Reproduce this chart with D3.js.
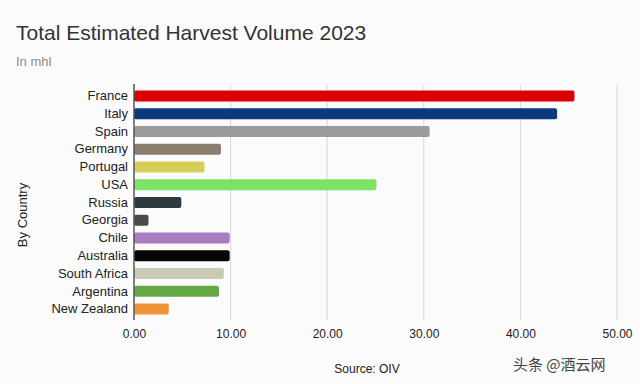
<!DOCTYPE html>
<html><head><meta charset="utf-8">
<script src="https://cdn.jsdelivr.net/npm/d3@7"></script>
<style>html,body{margin:0;padding:0;background:#fbfbfc;}svg{display:block;}</style>
</head><body>
<script>
const countries = ["France","Italy","Spain","Germany","Portugal","USA","Russia","Georgia","Chile","Australia","South Africa","Argentina","New Zealand"];
const volumes = [45.6,43.8,30.6,9.0,7.3,25.1,4.9,1.5,9.9,9.9,9.3,8.8,3.6];
const barColors = ["#dd0000","#0b3a7e","#9a9a9f","#8c7e6e","#d6cd58","#7ee264","#2e3a40","#4a4a4f","#a97cc0","#050505","#c9c9b5","#65a945","#f0943a"];
const xTicks = [0,10,20,30,40,50];
const titleText = "Total Estimated Harvest Volume 2023";
const subtitleText = "In mhl";
const yAxisTitle = "By Country";
const sourceText = "Source: OIV";
const watermark = "头条 @酒云网";

const W = 640, H = 384;
const svg = d3.select("body").append("svg").attr("width", W).attr("height", H);
svg.append("rect").attr("width", W).attr("height", H).attr("fill", "#fbfbfc");

const font = "'Liberation Sans', Arial, sans-serif";
const x = d3.scaleLinear().domain([0, 50]).range([134, 617]);
const y = d3.scaleBand().domain(countries).range([87, 318]).paddingInner(0.38).paddingOuter(0.19);

// gridlines
svg.append("g").selectAll("line").data(xTicks.slice(1)).join("line")
  .attr("x1", d => x(d)).attr("x2", d => x(d)).attr("y1", 85).attr("y2", 320)
  .attr("stroke", "#d6d6da").attr("stroke-width", 1);

// bars
svg.append("g").selectAll("rect").data(countries).join("rect")
  .attr("x", x(0)).attr("y", d => y(d))
  .attr("width", (d, i) => x(volumes[i]) - x(0))
  .attr("height", y.bandwidth())
  .attr("rx", 2).attr("fill", (d, i) => barColors[i]);

// axis line
svg.append("line").attr("x1", x(0)).attr("x2", x(0)).attr("y1", 84).attr("y2", 320)
  .attr("stroke", "#555").attr("stroke-width", 1.5);

// y labels
const yAxis = d3.axisLeft(y).tickSize(0).tickPadding(6);
const gy = svg.append("g").attr("transform", `translate(${x(0)},0)`).call(yAxis);
gy.select(".domain").remove();
gy.selectAll("text").attr("font-family", font).attr("font-size", 13).attr("fill", "#222");

// x tick labels
const xAxis = d3.axisBottom(x).tickValues(xTicks).tickFormat(d3.format(".2f")).tickSize(0).tickPadding(8);
const gx = svg.append("g").attr("transform", "translate(0,321)").call(xAxis);
gx.select(".domain").remove();
gx.selectAll("text").attr("font-family", font).attr("font-size", 12).attr("fill", "#222");

// titles
svg.append("text").attr("x", 16).attr("y", 40).text(titleText)
  .attr("font-family", font).attr("font-size", 21).attr("fill", "#333");
svg.append("text").attr("x", 16).attr("y", 66).text(subtitleText)
  .attr("font-family", font).attr("font-size", 13).attr("fill", "#8a8a8e");
svg.append("text").attr("transform", "translate(27,215) rotate(-90)").attr("text-anchor", "middle")
  .text(yAxisTitle).attr("font-family", font).attr("font-size", 13).attr("fill", "#222");
svg.append("text").attr("x", 367).attr("y", 373).attr("text-anchor", "middle").text(sourceText)
  .attr("font-family", font).attr("font-size", 12).attr("fill", "#222");
svg.append("text").attr("x", 513).attr("y", 370).text(watermark)
  .attr("font-family", "'Noto Sans CJK SC', sans-serif").attr("font-size", 15).attr("fill", "#444");
</script>
</body></html>
